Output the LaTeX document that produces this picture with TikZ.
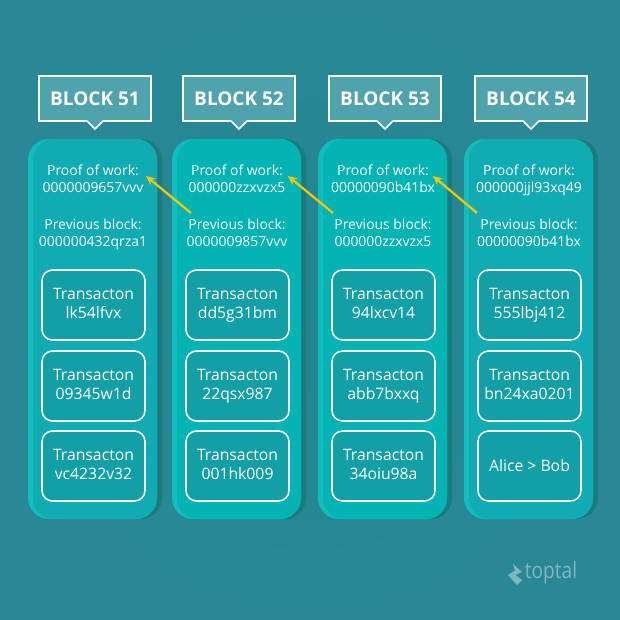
\documentclass[tikz,border=0pt]{standalone}
\usepackage{fontspec}
\setmainfont{Open Sans}
\usetikzlibrary{arrows.meta}
\definecolor{tealbg}{HTML}{1F868F}
\definecolor{tealedge}{HTML}{2A8896}
\definecolor{tealshade}{HTML}{1A7A80}
\definecolor{teallight}{HTML}{12BDBE}
\definecolor{tealouter}{HTML}{10ABB3}
\definecolor{tealmid}{HTML}{04B4B4}
\definecolor{tealinner}{HTML}{129FA6}
\definecolor{tagfill}{HTML}{4FA3AD}
\definecolor{arrowyellow}{HTML}{F7C600}
\newcommand{\lowline}{\vphantom{gj}}
\tikzset{
	txt/.style={anchor=north, text=white, font=\fontsize{9.9}{12.2}\selectfont, align=center},
	tag/.style={draw=white, line width=1.1pt, fill=tagfill},
	tagtext/.style={text=white, font=\fontsize{13.5}{16}\selectfont\bfseries},
	txbox/.style={draw=white, line width=1.1pt, fill=tealinner, rounded corners=7.5pt, minimum width=103*0.025cm, minimum height=70*0.025cm, text=white, font=\fontsize{11.2}{13.4}\selectfont, align=center},
	link/.style={draw=arrowyellow, line width=1.6pt, -{Stealth[length=6.5pt,width=6pt]}},
}
\begin{document}
\begin{tikzpicture}[x=0.025cm,y=-0.025cm]
	\shade[inner color=tealbg, outer color=tealedge] (0,0) rectangle (620,620);
	\useasboundingbox (0,0) rectangle (620,620);
	% the four blocks
	\foreach \n/\x/\panel/\proof/\prev/\ta/\tb/\tc in {
		51/28/tealouter/0000009657vvv/000000432qrza1/lk54lfvx/09345w1d/vc4232v32,
		52/172/tealmid/000000zzxvzx5/0000009857vvv/dd5g31bm/22qsx987/001hk009,
		53/318/tealmid/00000090b41bx/000000zzxvzx5/94lxcv14/abb7bxxq/34oiu98a,
		54/464/tealouter/000000jjl93xq49/00000090b41bx/555lbj412/bn24xa0201/{Alice > Bob}} {
		\fill[tealshade, rounded corners=15pt] (\x+20,139) rectangle (\x+134,519);
		\fill[teallight, rounded corners=15pt] (\x,139) rectangle (\x+129,519);
		\fill[\panel, rounded corners=15pt] (\x+5,139) rectangle (\x+129,519);
		\draw[tag] (\x+11,76) -- (\x+123,76) -- (\x+123,121) -- (\x+75,121) -- (\x+67,129) -- (\x+59,121) -- (\x+11,121) -- cycle;
		\node[tagtext] (tag\n) at (\x+67,99) {BLOCK \n};
		\node[txt] (proof\n) at (\x+65,160) {Proof of work:\\\proof};
		\node[txt] (prev\n) at (\x+65,214) {Previous block:\\\prev};
		\node[txbox] (ta\n) at (\x+65.5,305) {Transacton\\\ta\lowline};
		\node[txbox] (tb\n) at (\x+65.5,386) {Transacton\\\tb\lowline};
		\ifnum\n=54
			\node[txbox] (tc\n) at (\x+65.5,466) {\tc};
		\else
			\node[txbox] (tc\n) at (\x+65.5,466) {Transacton\\\tc\lowline};
		\fi
	}
	\coordinate (head51) at (146,176);
	\coordinate (tail52) at (191,213);
	\coordinate (head52) at (288,176);
	\coordinate (tail53) at (333,213);
	\coordinate (head53) at (433,176);
	\coordinate (tail54) at (477,213);
	\draw[link] (tail52) -- (head51);
	\draw[link] (tail53) -- (head52);
	\draw[link] (tail54) -- (head53);
	% logo
	\fill[white, opacity=0.4] (513,564) -- (522,572) -- (515.5,575) -- (522,580) -- (517,585) -- (508,575) -- (515,570.5) -- cycle;
	\node[text=white, opacity=0.4, xscale=0.85, font=\fontsize{16}{16}\selectfont] (logo) at (551,573) {toptal};
\end{tikzpicture}
\end{document}
